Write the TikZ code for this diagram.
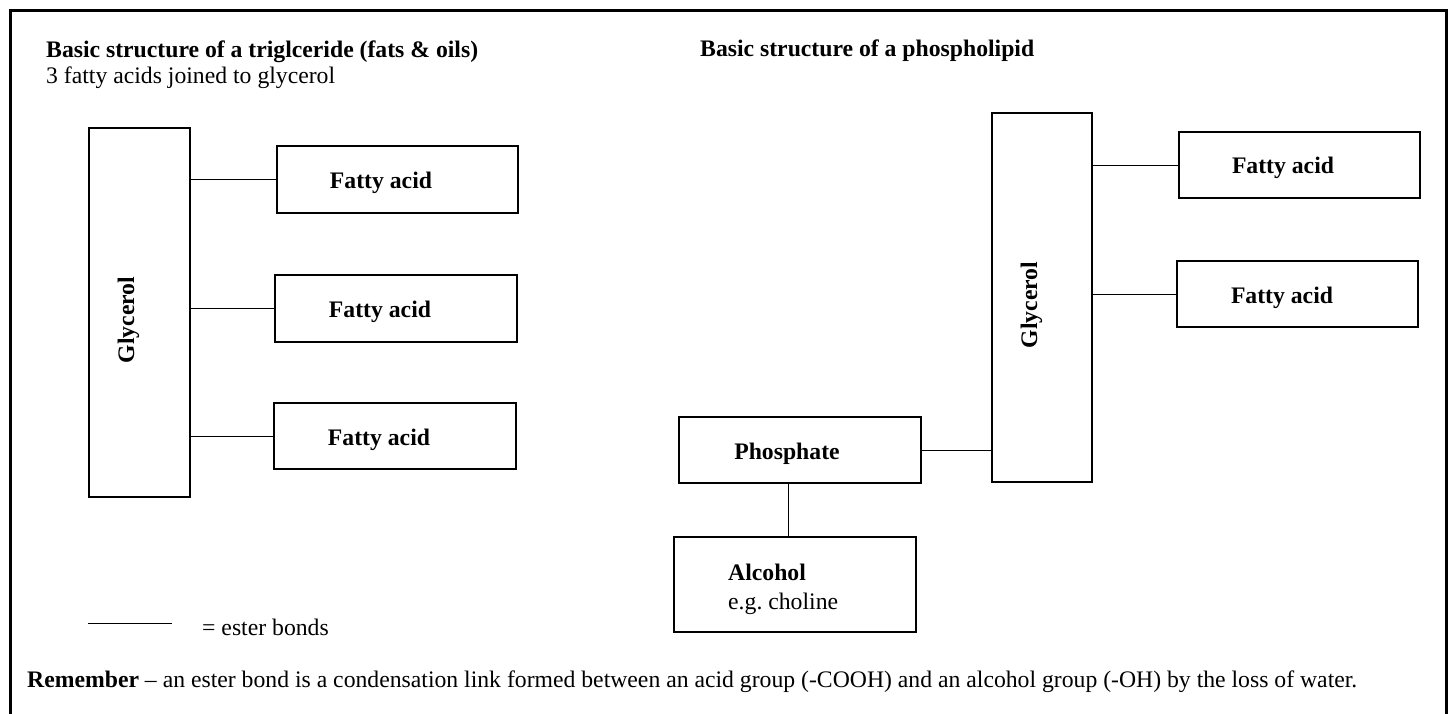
\documentclass[tikz,border=0pt]{standalone}
\usepackage{fontspec}
\setmainfont{Liberation Serif}
\tikzset{
  caixa/.style={draw, line width=1.2pt, inner sep=0pt},
  ligacao/.style={line width=1pt},
  rotulo/.style={font=\bfseries, inner sep=0pt, anchor=base},
  texto/.style={inner sep=0pt, anchor=base west},
}
\begin{document}
\fontsize{23.7pt}{28pt}\selectfont
\begin{tikzpicture}[x=1pt, y=-1pt]
		\useasboundingbox (0,0) rectangle (1452,713);
		\draw[line width=3pt] (10,730) -- (10,10) -- (1446,10) -- (1446,730);	% Moldura

		% Titulos
		\node[texto] (tit1) at (46,57)  {\textbf{Basic structure of a triglceride (fats \& oils)}};
		\node[texto] (sub1) at (46,83)  {3 fatty acids joined to glycerol};
		\node[texto] (tit2) at (700,56) {\textbf{Basic structure of a phospholipid}};

		% Triglicerideo
		\node[caixa, minimum width=101pt, minimum height=369pt] (g1) at (139.5,312.5) {};	% Glicerol
		\node[rotulo, rotate=90] (g1t) at (134,320) {Glycerol};
		\node[caixa, minimum width=241pt, minimum height=67pt] (fa1) at (397.5,179.5) {};
		\node[caixa, minimum width=242pt, minimum height=67pt] (fa2) at (396,308.5)   {};
		\node[caixa, minimum width=242pt, minimum height=66pt] (fa3) at (395,436)     {};
		\node[rotulo] (fa1t) at (381,188) {Fatty acid};
		\node[rotulo] (fa2t) at (380,317) {Fatty acid};
		\node[rotulo] (fa3t) at (379,445) {Fatty acid};

		% Fosfolipideo
		\node[caixa, minimum width=100pt, minimum height=369pt] (g2) at (1042,297.5) {};		% Glicerol
		\node[rotulo, rotate=90] (g2t) at (1037,305) {Glycerol};
		\node[caixa, minimum width=241pt, minimum height=66pt] (fa4) at (1299.5,165) {};
		\node[caixa, minimum width=241pt, minimum height=66pt] (fa5) at (1297.5,294) {};
		\node[rotulo] (fa4t) at (1283,173) {Fatty acid};
		\node[rotulo] (fa5t) at (1282,303) {Fatty acid};
		\node[caixa, minimum width=242pt, minimum height=66pt] (fosf) at (800,450)   {};	% Fosfato
		\node[rotulo] (fosft) at (787,459) {Phosphate};
		\node[caixa, minimum width=242pt, minimum height=95pt] (alc) at (795,584.5) {};	% Alcool
		\node[texto, font=\bfseries] (alct) at (728,580) {Alcohol};
		\node[texto] (colt) at (728,609) {e.g.\ choline};

		% Ligacoes ester
		\draw[ligacao] (fa1.west) -- (fa1.west -| g1.east);
		\draw[ligacao] (fa2.west) -- (fa2.west -| g1.east);
		\draw[ligacao] (fa3.west) -- (fa3.west -| g1.east);
		\draw[ligacao] (fa4.west) -- (fa4.west -| g2.east);
		\draw[ligacao] (fa5.west) -- (fa5.west -| g2.east);
		\draw[ligacao] (fosf.east) -- (fosf.east -| g2.west);
		\draw[ligacao] ([xshift=-12pt]fosf.south) -- ([xshift=-7pt]alc.north);

		% Legenda
		\coordinate (l1) at (88,623);
		\coordinate (l2) at (172,623);
		\draw[ligacao] (l1) -- (l2);
		\node[texto] (leg) at (202,635) {= ester bonds};
		\node[texto] (rem) at (27,687) {\textbf{Remember} – an ester bond is a condensation link formed between an acid group (-COOH) and an alcohol group (-OH) by the loss of water.};
	\end{tikzpicture}
\end{document}
